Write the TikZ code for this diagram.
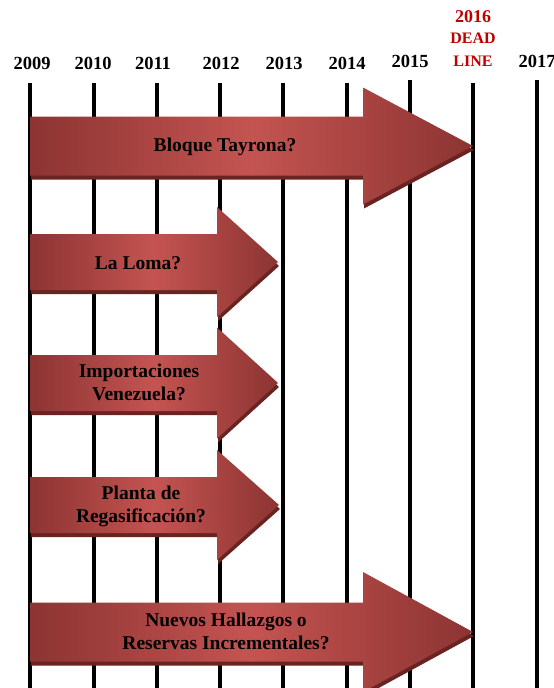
\documentclass[tikz,border=0pt]{standalone}
\usepackage{fontspec}
\setmainfont{Liberation Serif}
\definecolor{arrdk}{RGB}{140,52,50}
\definecolor{arrlt}{RGB}{196,84,81}
\definecolor{arrsh}{RGB}{105,36,34}
\definecolor{deadred}{RGB}{192,0,0}
\tikzset{
  yearlabel/.style={anchor=base,font=\bfseries\fontsize{18.5}{20}\selectfont,text=black,inner sep=0pt},
  deadlabel/.style={anchor=base,font=\bfseries\fontsize{16}{18}\selectfont,text=deadred,inner sep=0pt},
  yearline/.style={line width=4pt,black},
  arrowtext/.style={font=\bfseries\fontsize{19.5}{23}\selectfont,align=center,text=black,inner sep=0pt},
  arrowbody/.style={left color=arrdk,right color=arrdk,middle color=arrlt},
  arrowshadow/.style={fill=arrsh}
}
% #1 center y, #2 body half, #3 head base x, #4 tip x, #5 head half
\newcommand\tlarrow[5]{%
  \fill[arrowshadow] ($(30,#1-#2)+(1,4)$) -- ($(#3,#1-#2)+(1,4)$) -- ($(#3,#1-#5)+(1,4)$) -- ($(#4,#1)+(1,4)$) -- ($(#3,#1+#5)+(1,4)$) -- ($(#3,#1+#2)+(1,4)$) -- ($(30,#1+#2)+(1,4)$) -- cycle;
  \shade[arrowbody] (30,#1-#2) -- (#3,#1-#2) -- (#3,#1-#5) -- (#4,#1) -- (#3,#1+#5) -- (#3,#1+#2) -- (30,#1+#2) -- cycle;
}
\usetikzlibrary{calc}
\begin{document}
\begin{tikzpicture}[x=1pt,y=-1pt]
\useasboundingbox (0,0) rectangle (554,688);
% year labels
\node[yearlabel] (y2009) at (32,69) {2009};
\node[yearlabel] (y2010) at (93,69) {2010};
\node[yearlabel] (y2011) at (153,69) {2011};
\node[yearlabel] (y2012) at (221,69) {2012};
\node[yearlabel] (y2013) at (284,69) {2013};
\node[yearlabel] (y2014) at (347,69) {2014};
\node[yearlabel] (y2015) at (410,67) {2015};
\node[yearlabel] (y2017) at (537,67) {2017};
\node[deadlabel,font=\bfseries\fontsize{18}{20}\selectfont] (y2016) at (473,22) {2016};
\node[deadlabel] (dead) at (473,43) {DEAD};
\node[deadlabel] (line) at (473,66) {LINE};
% vertical lines
\foreach \x/\t in {30/83,94/83,157/83,220/83,283/83,347/83,410/80,473/83,537/80}{
  \draw[yearline] (\x,\t) -- (\x,688);
}
% arrows
\tlarrow{146}{29.5}{363}{473}{58.5}
\tlarrow{262}{28}{217}{278}{55}
\tlarrow{383}{28}{217}{278}{55.5}
\tlarrow{505}{28}{217}{279}{55}
\tlarrow{632}{29.5}{363}{473}{60}
% texts
\node[arrowtext] (tayrona) at (225,147) {Bloque Tayrona?};
\node[arrowtext] (loma) at (138,263) {La Loma?};
\node[arrowtext] (import) at (139,382) {Importaciones\\Venezuela?};
\node[arrowtext] (planta) at (141,506) {Planta de\\Regasificación?};
\node[arrowtext] (nuevos) at (226,631) {Nuevos Hallazgos o\\Reservas Incrementales?};
\end{tikzpicture}
\end{document}
